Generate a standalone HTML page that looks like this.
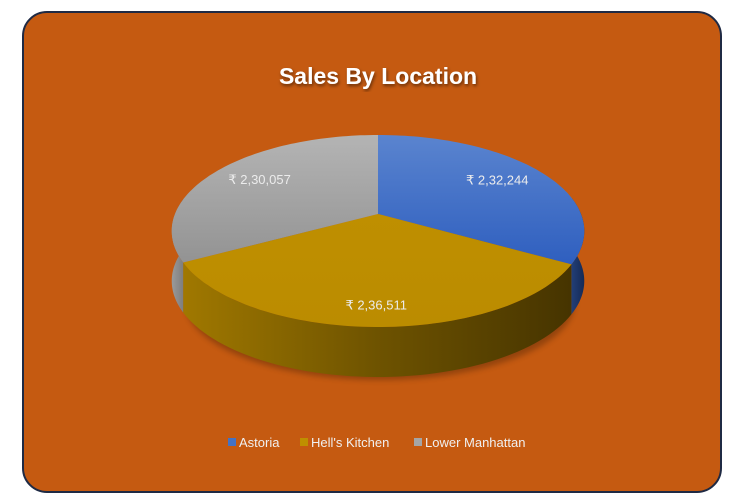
<!DOCTYPE html>
<html><head><meta charset="utf-8"><style>
html,body{margin:0;padding:0;background:#fff;}
svg{display:block;font-family:"Liberation Sans",sans-serif;}
</style></head><body>
<svg width="743" height="504" viewBox="0 0 743 504">
<defs>
<linearGradient id="gBlue" x1="0" y1="0" x2="0" y2="1"><stop offset="0" stop-color="#5a84cf"/><stop offset="1" stop-color="#2f5fbf"/></linearGradient>
<linearGradient id="gGray" x1="0" y1="0" x2="0" y2="1"><stop offset="0" stop-color="#b4b4b4"/><stop offset="1" stop-color="#939393"/></linearGradient>
<linearGradient id="gYellow" x1="0" y1="0" x2="0" y2="1"><stop offset="0" stop-color="#bf8f00"/><stop offset="1" stop-color="#bb8c00"/></linearGradient>
<linearGradient id="sYellow" x1="0" y1="0" x2="1" y2="0"><stop offset="0" stop-color="#a07800"/><stop offset="0.5" stop-color="#6e5300"/><stop offset="1" stop-color="#463400"/></linearGradient>
<linearGradient id="sBlue" x1="0" y1="0" x2="1" y2="0"><stop offset="0" stop-color="#223f78"/><stop offset="1" stop-color="#152a55"/></linearGradient>
<linearGradient id="sGray" x1="0" y1="0" x2="1" y2="0"><stop offset="0" stop-color="#9a9a9a"/><stop offset="1" stop-color="#7c7c7c"/></linearGradient>
<filter id="shadow" x="-20%" y="-20%" width="140%" height="160%"><feGaussianBlur stdDeviation="3"/></filter>
<filter id="tshadow"><feDropShadow dx="1" dy="2" stdDeviation="1.5" flood-color="#000" flood-opacity="0.5"/></filter>
</defs>
<rect x="23" y="12" width="698" height="480" rx="24" ry="24" fill="#c55a11" stroke="#1f2a44" stroke-width="2"/>
<text x="378" y="84" text-anchor="middle" font-size="23" font-weight="bold" fill="#fff" filter="url(#tshadow)">Sales By Location</text>
<ellipse cx="380" cy="302" rx="195" ry="78" fill="#000" opacity="0.25" filter="url(#shadow)"/>
<g id="pie"></g>
<g id="legend"></g>
<script>
const categories = ["Astoria", "Hell's Kitchen", "Lower Manhattan"];
const values = [232244, 236511, 230057];
const valueLabels = ["₹ 2,32,244", "₹ 2,36,511", "₹ 2,30,057"];
const NS = "http://www.w3.org/2000/svg";
const cx = 378, cy = 214, rx = 203, ry = 93, k = 0.177, depth = 50;
const topFill = ["url(#gBlue)", "url(#gYellow)", "url(#gGray)"];
const sideFill = ["url(#sBlue)", "url(#sYellow)", "url(#sGray)"];
const legendColor = ["#4472c4", "#bf8f00", "#a5a5a5"];
function pt(deg){const t=deg*Math.PI/180,s=Math.sin(t),c=Math.cos(t),d=1+k*c;return [cx+rx*s/d, cy-ry*c/d];}
const total = values.reduce((a,b)=>a+b,0);
const pie = document.getElementById('pie');
let a0 = 0; const slices = [];
values.forEach((v,i)=>{const a1=a0+360*v/total;slices.push([a0,a1]);a0=a1;});
slices.forEach(([s,e],i)=>{
  const lo=Math.max(s,80), hi=Math.min(e,280);
  if(hi<=lo) return;
  const top=[],bot=[];
  for(let a=lo;a<=hi+0.001;a+=(hi-lo)/60){const p=pt(a);top.push(p);bot.push([p[0],p[1]+depth]);}
  const pts=top.concat(bot.reverse()).map(p=>p.join(',')).join(' ');
  const pg=document.createElementNS(NS,'polygon');
  pg.setAttribute('points',pts);pg.setAttribute('fill',sideFill[i]);
  
  
  pie.appendChild(pg);
});
slices.forEach(([s,e],i)=>{
  let d='M'+cx+','+cy;
  for(let a=s;a<=e+0.001;a+=(e-s)/80){const p=pt(a);d+=' L'+p[0].toFixed(1)+','+p[1].toFixed(1);}
  d+=' Z';
  const path=document.createElementNS(NS,'path');
  path.setAttribute('d',d);path.setAttribute('fill',topFill[i]);
  
  
  pie.appendChild(path);
});
slices.forEach(([s,e],i)=>{
  const m=(s+e)/2; const t=m*Math.PI/180,sn=Math.sin(t),c=Math.cos(t),dd=1+k*c;
  const x=cx+0.74*rx*sn/dd, y=cy-0.8*ry*c/dd+5;
  const tx=document.createElementNS(NS,'text');
  tx.setAttribute('x',x);tx.setAttribute('y',y);tx.setAttribute('text-anchor','middle');
  tx.setAttribute('font-size','13');tx.setAttribute('fill','#ececec');
  tx.textContent=valueLabels[i];
  
  
  pie.appendChild(tx);
});
const lg=document.getElementById('legend');
const lx=[228,300,414];
categories.forEach((c,i)=>{
  const g=document.createElementNS(NS,'g');
  
  
  const r=document.createElementNS(NS,'rect');
  r.setAttribute('x',lx[i]);r.setAttribute('y',438);r.setAttribute('width',8);r.setAttribute('height',8);r.setAttribute('fill',legendColor[i]);
  const t=document.createElementNS(NS,'text');
  t.setAttribute('x',lx[i]+11);t.setAttribute('y',447);t.setAttribute('font-size','13');t.setAttribute('fill','#f0f0f0');
  t.textContent=c;
  g.appendChild(r);g.appendChild(t);lg.appendChild(g);
});
</script>
</svg>
</body></html>
